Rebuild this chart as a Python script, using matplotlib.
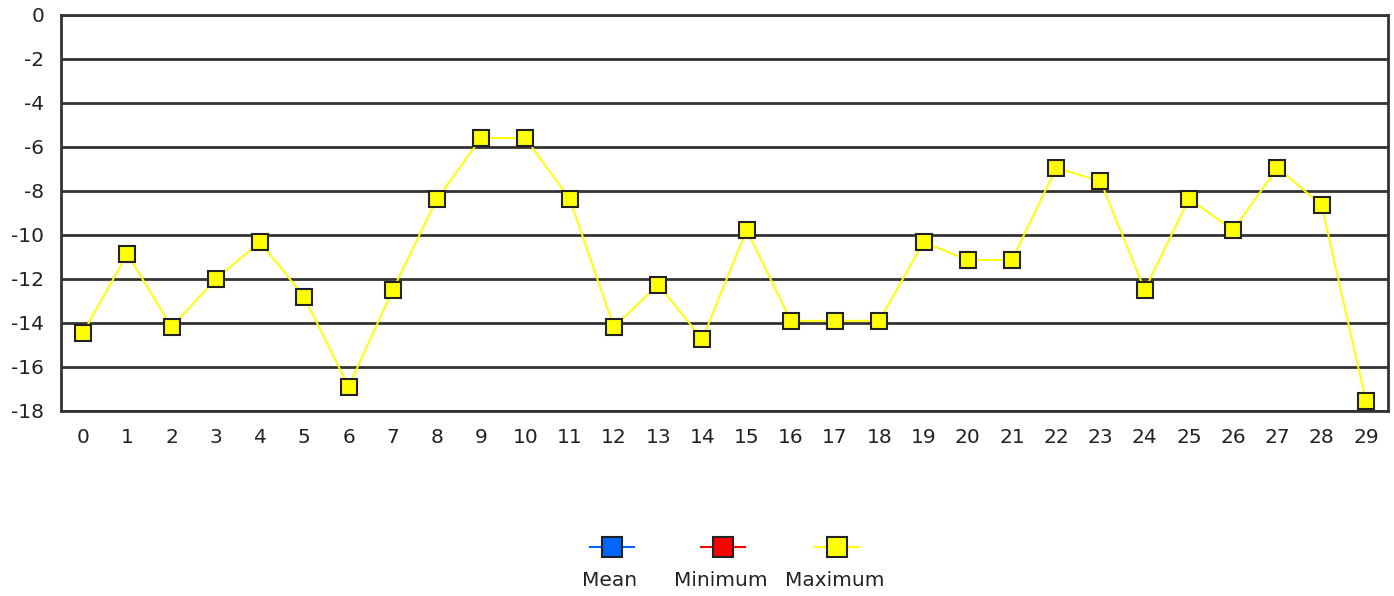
import numpy as np
import matplotlib
matplotlib.use("Agg")
import matplotlib.pyplot as plt
from matplotlib.lines import Line2D

plt.rcParams['font.family'] = ['DejaVu Sans']

# series values
days = list(range(30))
maximum = [-14.45, -10.86, -14.18, -12.0, -10.32, -12.82, -16.9, -12.5, -8.36, -5.59,
           -5.59, -8.36, -14.18, -12.27, -14.73, -9.77, -13.9, -13.9, -13.9, -10.32,
           -11.14, -11.14, -6.95, -7.55, -12.5, -8.36, -9.77, -6.95, -8.64, -17.55]
y_ticks = list(range(0, -19, -2))

series_names = ["Mean", "Minimum", "Maximum"]
series_colors = ["#0066ff", "#ff0000", "#ffff00"]

fig = plt.figure(figsize=(13.94, 5.96), dpi=100)
ax = fig.add_axes([61/1394, 1 - 411/596, (1388 - 61)/1394, (411 - 15)/596])

ax.plot(days, maximum, color=series_colors[2], lw=1.4, marker="s", ms=11.5,
        mfc=series_colors[2], mec="#222222", mew=1.5, zorder=3, clip_on=False)

ax.set_xlim(-0.5, 29.5)
ax.set_ylim(-18, 0)
ax.set_xticks(days)
ax.set_xticklabels([str(d) for d in days])
ax.set_yticks(y_ticks)
ax.set_yticklabels([str(t) for t in y_ticks])
ax.tick_params(length=0, labelsize=14.5, colors="#222222")
ax.tick_params(axis="x", pad=12)
ax.tick_params(axis="y", pad=12)
ax.yaxis.grid(True, color="#333333", lw=2)
ax.set_axisbelow(True)
for s in ax.spines.values():
    s.set_color("#333333")
    s.set_linewidth(2)

# legend: markers on top, names underneath
leg_x = [612, 723, 837]
for name, col, x in zip(series_names, series_colors, leg_x):
    fx = x / 1394
    fig.add_artist(Line2D([fx - 22/1394, fx + 22/1394], [1 - 547/596] * 2,
                          color=col, lw=1.5, transform=fig.transFigure))
    fig.add_artist(Line2D([fx], [1 - 547/596], marker="s", ms=15, mfc=col,
                          mec="#222222", mew=1.5, transform=fig.transFigure))
    fig.text(fx - 2/1394, 1 - 580/596, name, ha="center", va="center",
             fontsize=14.5, color="#222222")

fig.savefig("out.png", dpi=100)
